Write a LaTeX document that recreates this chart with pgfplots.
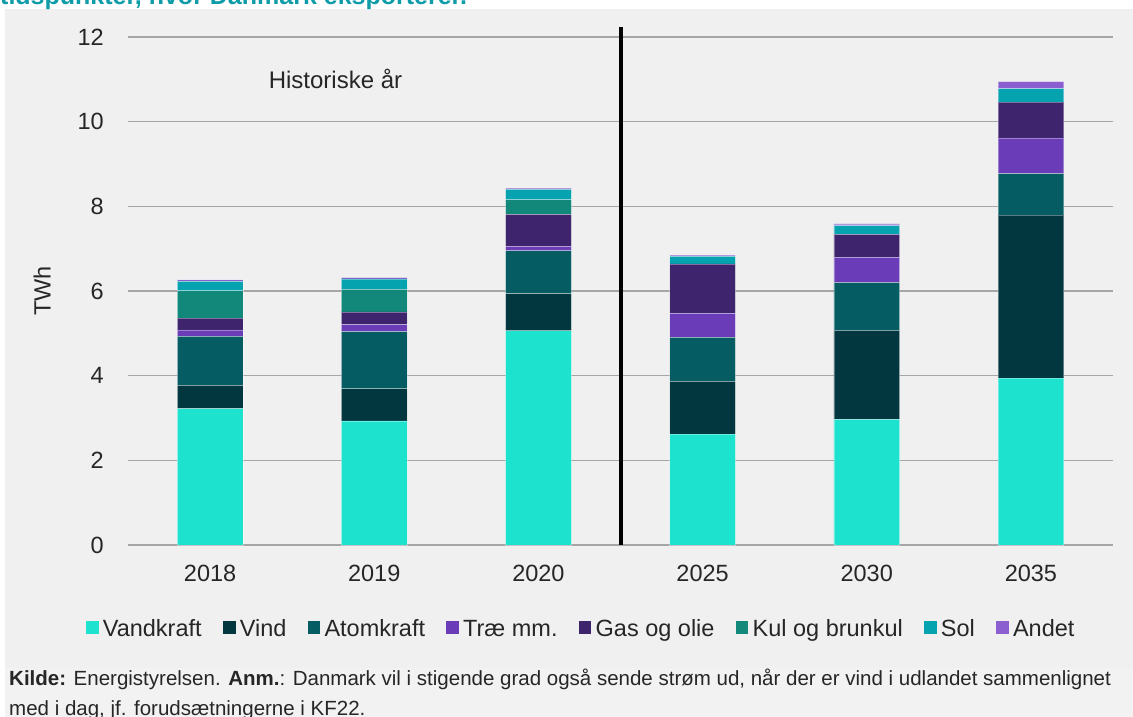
\documentclass[border=0pt]{standalone}
\usepackage{pgfplots}
\pgfplotsset{compat=1.18}
\usepackage{pgfplotstable}
\usepackage{fontspec}
\setmainfont{Liberation Sans}
\definecolor{cVand}{HTML}{1DE2CD}
\definecolor{cVind}{HTML}{02373F}
\definecolor{cAtom}{HTML}{055D63}
\definecolor{cTrae}{HTML}{6A3CB8}
\definecolor{cGas}{HTML}{3D246C}
\definecolor{cKul}{HTML}{11887A}
\definecolor{cSol}{HTML}{05A2B0}
\definecolor{cAndet}{HTML}{8B5FD0}
\definecolor{panel}{HTML}{F0F0F0}
\definecolor{notebg}{HTML}{F2F2F2}
\definecolor{gridgray}{HTML}{A6A6A6}
\definecolor{labelcol}{HTML}{262626}
\definecolor{titleteal}{HTML}{0E9CA8}
\pgfplotstableread{
x Vand Vind Atom Trae Gas Kul Sol Andet
0 3.22 0.55 1.16 0.15 0.28 0.645 0.22 0.04
1 2.93 0.76 1.35 0.165 0.30 0.535 0.245 0.03
2 5.06 0.875 1.015 0.105 0.755 0.345 0.245 0.03
3 2.62 1.245 1.04 0.565 1.17 0 0.18 0.025
4 2.97 2.10 1.125 0.60 0.545 0 0.205 0.04
5 3.94 3.85 0.98 0.845 0.845 0 0.32 0.165
}\datatable
\begin{document}
\begin{tikzpicture}
\useasboundingbox (0pt,0pt) rectangle (1133pt,717pt);
\fill[white] (0pt,0pt) rectangle (1133pt,717pt);
\fill[panel] (5pt,49pt) rectangle (1133pt,708pt);
\fill[notebg] (5pt,0pt) rectangle (1133pt,49pt);
\node[anchor=base west, font=\fontsize{25}{30}\selectfont\bfseries, text=titleteal, inner sep=0pt] at (0pt,712pt) {tidspunkter, hvor Danmark eksporterer.};
\begin{axis}[
  at={(128pt,172pt)}, anchor=south west,
  scale only axis, width=985pt, height=508pt,
  xmin=-0.5, xmax=5.5, ymin=0, ymax=12,
  ybar stacked, bar width=0.4,
  ytick={0,2,...,12},
  xtick={0,...,5},
  xticklabels={2018,2019,2020,2025,2030,2035},
  axis line style={draw=none},
  tick style={draw=none},
  ymajorgrids, xmajorgrids=false,
  grid style={color=gridgray, line width=1.6pt},
  clip=false,
  /pgf/number format/assume math mode=true,
  tick label style={font=\fontsize{23.5}{28}\selectfont, text=labelcol},
  yticklabel style={inner sep=0pt, xshift=-24pt},
  xticklabel style={inner sep=0pt, yshift=-20pt},
  ylabel={TWh},
  ylabel style={at={(axis description cs:-0.0873,0.5)}, anchor=center, rotate=0, font=\fontsize{23.5}{28}\selectfont, text=labelcol, inner sep=0pt},
  legend columns=8,
  legend style={at={(axis description cs:0.459,-0.168)}, anchor=center, draw=none, fill=none,
    font=\fontsize{23.5}{28}\selectfont, text=labelcol,
    nodes={inner sep=0pt, text height=17pt, text depth=5pt, anchor=base west},
    /tikz/every odd column/.append style={column sep=4pt},
    /tikz/every even column/.append style={column sep=21pt}},
  legend image code/.code={\fill[#1, draw opacity=0] (0pt,2.6pt) rectangle (12.5pt,15.1pt);},
  every axis plot/.append style={draw=white, draw opacity=0.35, line width=0.6pt},
]
\addplot[fill=cVand] table[x=x,y=Vand]{\datatable};
\addplot[fill=cVind] table[x=x,y=Vind]{\datatable};
\addplot[fill=cAtom] table[x=x,y=Atom]{\datatable};
\addplot[fill=cTrae] table[x=x,y=Trae]{\datatable};
\addplot[fill=cGas] table[x=x,y=Gas]{\datatable};
\addplot[fill=cKul] table[x=x,y=Kul]{\datatable};
\addplot[fill=cSol] table[x=x,y=Sol]{\datatable};
\addplot[fill=cAndet] table[x=x,y=Andet]{\datatable};
\legend{Vandkraft,Vind,Atomkraft,Træ mm.,Gas og olie,Kul og brunkul,Sol,Andet}
\draw[black, line width=4pt] (axis cs:2.5,0) -- (axis cs:2.5,12.24);
\node[font=\fontsize{24}{28}\selectfont, text=labelcol, inner sep=0pt] at (axis cs:0.764,11.0) {Historiske år};
\end{axis}
\node[anchor=base west, font=\fontsize{20.5}{24}\selectfont, text=labelcol, inner sep=0pt] at (9pt,31pt) {\textbf{Kilde:} Energistyrelsen. \textbf{Anm.}: Danmark vil i stigende grad også sende strøm ud, når der er vind i udlandet sammenlignet};
\node[anchor=base west, font=\fontsize{20.5}{24}\selectfont, text=labelcol, inner sep=0pt] at (9pt,1pt) {med i dag, jf. forudsætningerne i KF22.};
\end{tikzpicture}
\end{document}
